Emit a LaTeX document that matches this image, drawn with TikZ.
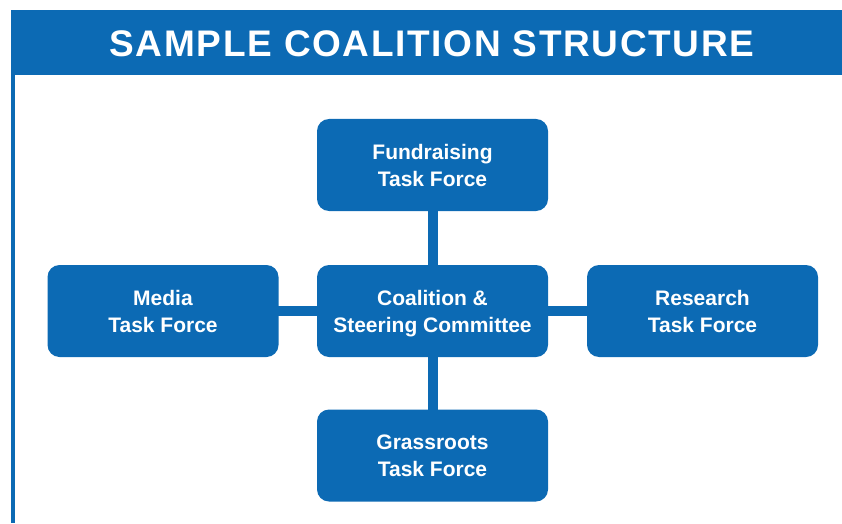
\documentclass[tikz,border=0pt]{standalone}
\usepackage{fontspec}
\setmainfont{Liberation Sans}
\usetikzlibrary{backgrounds}
\definecolor{coalblue}{RGB}{12,106,180}
\begin{document}
\begin{tikzpicture}[x=1pt,y=1pt,
  taskbox/.style={fill=coalblue, rounded corners=12pt, minimum width=231pt,
    minimum height=92pt, align=center, text=white, text depth=0pt,
    font=\fontsize{21}{27}\selectfont\bfseries, inner sep=0pt},
  link/.style={draw=coalblue, line width=10pt}]
  \useasboundingbox (0,0) rectangle (842,523);
  % title band and left rule
  \fill[coalblue] (11,448) rectangle (842,512.5);
  \fill[coalblue] (11,0) rectangle (15,448);
  \node[text=white, text depth=0pt,
    font=\fontsize{37}{40}\selectfont\bfseries\addfontfeature{LetterSpace=4.5}]
    (title) at (432,479) {SAMPLE COALITION STRUCTURE};
  % task force boxes around the steering committee
  \node[taskbox] (core) at (432.5,212) {Coalition \&\\Steering Committee};
  \node[taskbox] (fund) at (432.5,358) {Fundraising\\Task Force};
  \node[taskbox] (media) at (163,212) {Media\\Task Force};
  \node[taskbox] (research) at (702.5,212) {Research\\Task Force};
  \node[taskbox] (grass) at (432.5,67.5) {Grassroots\\Task Force};
  % connecting bars behind the boxes
  \begin{scope}[on background layer]
    \draw[link] (fund.center) -- (core.center) -- (grass.center);
    \draw[link] (media.center) -- (core.center) -- (research.center);
  \end{scope}
\end{tikzpicture}
\end{document}
